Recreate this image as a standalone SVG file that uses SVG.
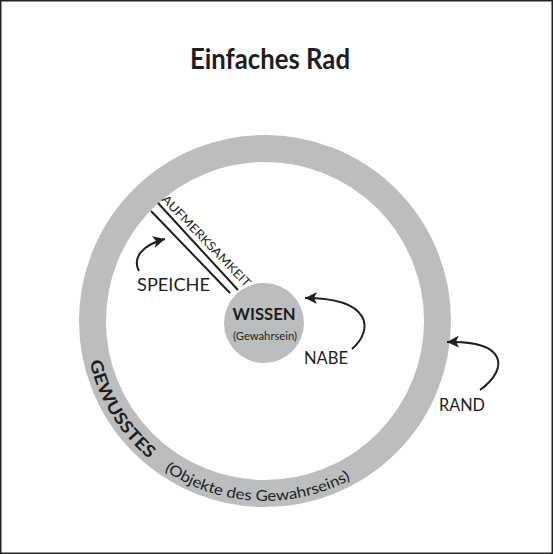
<svg xmlns="http://www.w3.org/2000/svg" width="553" height="554" viewBox="0 0 553 554">
<style>
.lbl{font-family:Lato,"Open Sans","Liberation Sans",sans-serif;fill:#1e1e1e;}
.conn{fill:none;stroke:#1e1e1e;stroke-width:2;}
.gray{fill:#bcbdbf;}
</style>
<defs>
<marker id="ah" markerUnits="userSpaceOnUse" markerWidth="14" markerHeight="12" refX="12" refY="6" orient="auto">
<path d="M0,0 L12,6 L0,12 L3,6 Z" fill="#1e1e1e"/>
</marker>
<path id="arcG" d="M 89.6 361.5 A 180 180 0 0 0 151.7 460.9"/>
<path id="arcO" d="M 164.3 470.2 A 180 180 0 0 0 352.3 478.4"/>
</defs>
<rect x="0.75" y="0.75" width="551.5" height="552.5" fill="#fff" stroke="#222" stroke-width="1.5"/>
<text class="lbl" x="270" y="69" font-size="28" font-weight="bold" text-anchor="middle" textLength="160" lengthAdjust="spacingAndGlyphs">Einfaches Rad</text>
<g id="rand">
<circle cx="265" cy="321" r="172.5" fill="none" stroke="#bcbdbf" stroke-width="27"/>
<text class="lbl" font-size="17" font-weight="bold"><textPath href="#arcG" textLength="116" lengthAdjust="spacingAndGlyphs">GEWUSSTES</textPath></text>
<text class="lbl" font-size="15"><textPath href="#arcO" textLength="196" lengthAdjust="spacingAndGlyphs">(Objekte des Gewahrseins)</textPath></text>
</g>
<g id="nabe">
<circle class="gray" cx="264" cy="323" r="40"/>
<text class="lbl" x="264" y="320" font-size="17" font-weight="bold" text-anchor="middle" textLength="63" lengthAdjust="spacingAndGlyphs">WISSEN</text>
<text class="lbl" x="265" y="340" font-size="12" text-anchor="middle" textLength="64" lengthAdjust="spacingAndGlyphs">(Gewahrsein)</text>
</g>
<g id="speiche">
<line class="conn" x1="151" y1="211" x2="230" y2="293"/>
<line class="conn" x1="158" y1="203" x2="238" y2="290"/>
<text class="lbl" font-size="12" transform="translate(161,200) rotate(46)" textLength="122" lengthAdjust="spacingAndGlyphs">AUFMERKSAMKEIT</text>
</g>
<g id="labels">
<text class="lbl" x="137" y="291" font-size="18" textLength="73" lengthAdjust="spacingAndGlyphs">SPEICHE</text>
<text class="lbl" x="304" y="364" font-size="17" textLength="44" lengthAdjust="spacingAndGlyphs">NABE</text>
<text class="lbl" x="439" y="411" font-size="18" textLength="46" lengthAdjust="spacingAndGlyphs">RAND</text>
</g>
<g id="connectors">
<path class="conn" d="M 139 271 C 132 258, 142 245, 165 239" marker-end="url(#ah)"/>
<path class="conn" d="M 352 349 C 374 330, 372 298, 305 298" marker-end="url(#ah)"/>
<path class="conn" d="M 480 390 C 510 368, 506 340, 447 342" marker-end="url(#ah)"/>
</g>
</svg>
